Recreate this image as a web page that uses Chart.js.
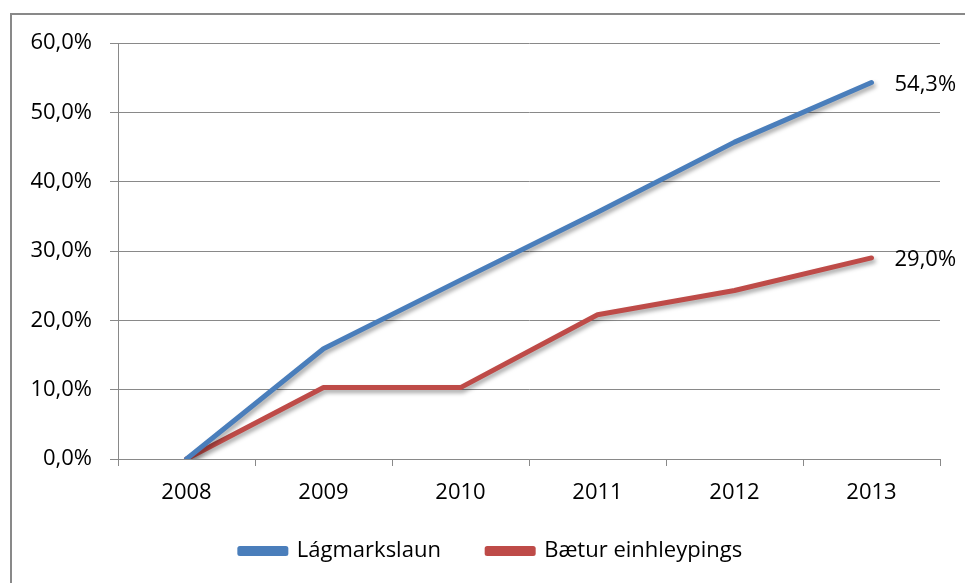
<!DOCTYPE html>
<html>
<head>
<meta charset="utf-8">
<script src="https://cdn.jsdelivr.net/npm/chart.js@4"></script>
<style>
  html, body { margin: 0; padding: 0; background: #fff; }
  #frame {
    position: absolute; left: 10px; top: 13px; width: 1000px; height: 600px;
    border-left: 2px solid #898989; border-top: 2px solid #898989; box-sizing: border-box;
  }
  #wrap { position: absolute; left: 0; top: 0; width: 965px; height: 583px; }
</style>
</head>
<body>
<div id="frame"></div>
<div id="wrap"><canvas id="chart" width="965" height="583"></canvas></div>
<script>
const years = ['2008', '2009', '2010', '2011', '2012', '2013'];
const lagmarkslaun = [0, 15.9, 25.8, 35.6, 45.7, 54.3];
const baetur = [0, 10.3, 10.3, 20.8, 24.3, 29.0];
const seriesNames = ['Lágmarkslaun', 'Bætur einhleypings'];
const yTicks = { min: 0, max: 60, step: 10 };

const FONT = '"Open Sans", "Liberation Sans", sans-serif';
const FONT_SIZE = 22;
const GRID = '#898989';
const BLUE = '#4a7ebb';
const RED = '#be4b48';

function pct(v) {
  return v.toFixed(1).replace('.', ',') + '%';
}

const lineShadow = {
  id: 'lineShadow',
  beforeDatasetDraw(chart) {
    const ctx = chart.ctx;
    ctx.save();
    ctx.shadowColor = 'rgba(0,0,0,0.35)';
    ctx.shadowBlur = 4;
    ctx.shadowOffsetX = 2;
    ctx.shadowOffsetY = 3;
  },
  afterDatasetDraw(chart) {
    chart.ctx.restore();
  },
};

const lastLabels = {
  id: 'lastLabels',
  afterDatasetsDraw(chart) {
    const ctx = chart.ctx;
    ctx.save();
    ctx.font = FONT_SIZE + 'px ' + FONT;
    ctx.fillStyle = '#000';
    ctx.textAlign = 'left';
    ctx.textBaseline = 'middle';
    chart.data.datasets.forEach((ds, i) => {
      const pts = chart.getDatasetMeta(i).data;
      const p = pts[pts.length - 1];
      ctx.fillText(pct(ds.data[ds.data.length - 1]), p.x + 23, p.y + 2);
    });
    ctx.restore();
  },
};

// legend sits a bit right of centre in the original
const legendShift = {
  id: 'legendShift',
  afterLayout(chart) {
    if (chart.legend) chart.legend.left += 42;
  },
};

function dataset(label, data, color) {
  return {
    label,
    data,
    borderColor: color,
    backgroundColor: color,
    borderWidth: 5,
    pointRadius: 0,
    tension: 0,
    borderCapStyle: 'round',
    borderJoinStyle: 'round',
  };
}

new Chart(document.getElementById('chart'), {
  type: 'line',
  data: {
    labels: years,
    datasets: [
      dataset(seriesNames[0], lagmarkslaun, BLUE),
      dataset(seriesNames[1], baetur, RED),
    ],
  },
  options: {
    responsive: false,
    animation: false,
    layout: { padding: { top: 43, right: 25, left: 0, bottom: 11 } },
    plugins: {
      legend: {
        position: 'bottom',
        labels: {
          color: '#000',
          font: { family: FONT, size: FONT_SIZE },
          boxWidth: 46,
          boxHeight: 5,
          padding: 12,
          generateLabels(chart) {
            const items = Chart.defaults.plugins.legend.labels.generateLabels(chart);
            // Excel leaves a wider gap between the two entries
            items[0].text += '      ';
            return items;
          },
        },
      },
      tooltip: { enabled: false },
    },
    scales: {
      x: {
        offset: true,
        afterFit(scale) { scale.height = 69; },
        grid: { drawOnChartArea: false, drawTicks: true, tickLength: 7, color: GRID, offset: true },
        border: { color: GRID, width: 1 },
        ticks: { color: '#000', font: { family: FONT, size: FONT_SIZE }, padding: 14, maxRotation: 0 },
      },
      y: {
        min: yTicks.min,
        max: yTicks.max,
        afterFit(scale) { scale.width = 118; },
        grid: { color: GRID, tickLength: 8 },
        border: { color: GRID, width: 1 },
        ticks: {
          stepSize: yTicks.step,
          color: '#000',
          font: { family: FONT, size: FONT_SIZE },
          padding: 18,
          callback: (v) => pct(v),
        },
      },
    },
  },
  plugins: [lineShadow, lastLabels, legendShift],
});
</script>
</body>
</html>
